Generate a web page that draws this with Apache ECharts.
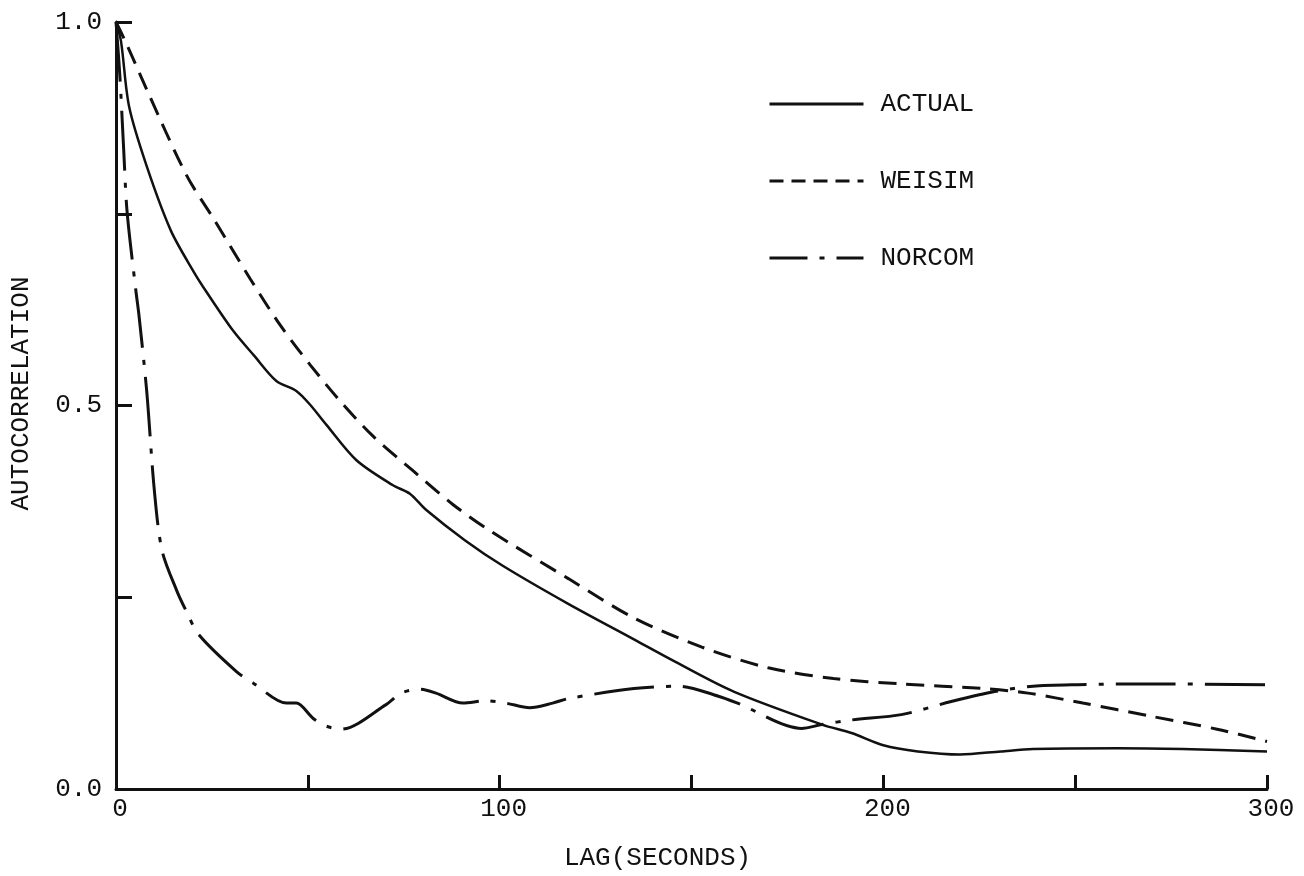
<!DOCTYPE html>
<html>
<head>
<meta charset="utf-8">
<script src="https://cdn.jsdelivr.net/npm/echarts@6/dist/echarts.min.js"></script>
<style>
  html, body { margin: 0; padding: 0; background: #fff; }
  #chart { width: 1304px; height: 876px; }
</style>
</head>
<body>
<div id="chart"></div>
<script>
// ---- data ----
const seriesNames = ['ACTUAL', 'WEISIM', 'NORCOM'];

const actualLag = [0, 1.3, 3.4, 8, 14.3, 20.3, 23.6, 30.6, 36, 41.8, 47, 50.6, 54.8, 62.6, 72.2, 76.6, 80.8, 91, 100.8, 118, 135, 145.7, 161, 184, 191.7, 200, 209, 220, 230.6, 239, 261, 278, 300];
const actualVal = [1.0, 0.975, 0.89, 0.812, 0.728, 0.674, 0.648, 0.597, 0.565, 0.532, 0.519, 0.501, 0.475, 0.429, 0.396, 0.385, 0.364, 0.324, 0.291, 0.241, 0.195, 0.166, 0.127, 0.084, 0.073, 0.057, 0.049, 0.045, 0.049, 0.052, 0.053, 0.052, 0.049];

const weisimLag = [0, 2.6, 8, 18.4, 25.5, 35, 42.9, 50.6, 58.4, 67, 77.4, 87.8, 97.4, 118, 135, 152.7, 170, 187, 204.7, 226, 237.7, 252, 269.6, 287, 300];
const weisimVal = [1.0, 0.973, 0.912, 0.80, 0.743, 0.665, 0.604, 0.553, 0.506, 0.460, 0.415, 0.371, 0.337, 0.274, 0.223, 0.185, 0.158, 0.144, 0.137, 0.131, 0.125, 0.112, 0.095, 0.078, 0.062];

const norcomLag = [0, 1, 2, 2.9, 5.2, 6, 8, 10, 12, 15.8, 18.4, 21.6, 31.4, 35.8, 44.4, 47, 51.4, 54.8, 58.7, 70.4, 74.3, 79.2, 83.4, 90.4, 96.4, 101.6, 107.8, 113.8, 118, 135, 146.8, 157, 162, 178.7, 184, 191.7, 204.7, 217.7, 229, 239, 250.6, 269.6, 300];
const norcomVal = [1.0, 0.93, 0.834, 0.752, 0.649, 0.617, 0.519, 0.389, 0.311, 0.259, 0.231, 0.201, 0.153, 0.138, 0.112, 0.112, 0.092, 0.082, 0.078, 0.110, 0.125, 0.130, 0.125, 0.112, 0.115, 0.112, 0.106, 0.112, 0.118, 0.131, 0.134, 0.121, 0.112, 0.079, 0.084, 0.090, 0.097, 0.114, 0.127, 0.134, 0.136, 0.137, 0.136];

const xTickLabels = ['0', '100', '200', '300'];
const yTickLabels = ['0.0', '0.5', '1.0'];

// ---- build ----
function pairs(xs, ys) { return xs.map((x, i) => [x, ys[i]]); }
const FONT = 'Liberation Mono';
const FS = 26;
const INK = '#111';
const dashStyles = ['solid', [14, 8], [38, 12, 5, 12]];
const plotDash = ['solid', [18, 10], [60, 12, 5, 12]];

const chart = echarts.init(document.getElementById('chart'), null, { renderer: 'canvas' });
chart.setOption({
  backgroundColor: '#fff',
  animation: false,
  grid: { left: 112, right: 37, top: 22, bottom: 83, containLabel: false },
  legend: {
    orient: 'vertical',
    left: 763,
    top: 84,
    itemWidth: 94,
    itemHeight: 14,
    itemGap: 47,
    selectedMode: false,
    itemStyle: { opacity: 0 },
    data: seriesNames.map((n, i) => ({
      name: n,
      itemStyle: { opacity: 0 },
      lineStyle: { color: INK, width: 3, type: dashStyles[i] }
    })),
    textStyle: { fontFamily: FONT, fontSize: FS, color: INK, lineHeight: 30, padding: [0, 0, 0, 12] }
  },
  xAxis: {
    type: 'value',
    min: 0, max: 300, interval: 50,
    name: 'LAG(SECONDS)',
    nameLocation: 'middle',
    nameGap: 56,
    nameTextStyle: { fontFamily: FONT, fontSize: FS, color: INK, padding: [0, 68, 0, 0] },
    axisLine: { lineStyle: { color: INK, width: 3 } },
    axisTick: { inside: true, length: 14, lineStyle: { color: INK, width: 3 } },
    axisLabel: {
      fontFamily: FONT, fontSize: FS, color: INK, margin: 7,
      padding: [0, 0, 0, 8],
      formatter: v => { const s = String(v); return xTickLabels.includes(s) ? s : ''; }
    },
    splitLine: { show: false }
  },
  yAxis: {
    type: 'value',
    min: 0, max: 1, interval: 0.25,
    name: 'AUTOCORRELATION',
    nameLocation: 'middle',
    nameGap: 82,
    nameTextStyle: { fontFamily: FONT, fontSize: FS, color: INK, padding: [0, 0, 0, 24] },
    axisLine: { lineStyle: { color: INK, width: 3 } },
    axisTick: { inside: true, length: 16, lineStyle: { color: INK, width: 3 } },
    axisLabel: {
      fontFamily: FONT, fontSize: FS, color: INK, margin: 14,
      formatter: v => { const s = v.toFixed(1); return (yTickLabels.includes(s) && Math.abs(v * 2 - Math.round(v * 2)) < 1e-9) ? s : ''; }
    },
    splitLine: { show: false }
  },
  series: seriesNames.map((n, i) => ({
    name: n, type: 'line',
    data: [pairs(actualLag, actualVal), pairs(weisimLag, weisimVal), pairs(norcomLag, norcomVal)][i],
    smooth: 0.3, symbol: 'none', showSymbol: false,
    lineStyle: { color: INK, width: i === 0 ? 2.5 : 3, type: plotDash[i] },
    itemStyle: { color: INK }
  }))
});
</script>
</body>
</html>
